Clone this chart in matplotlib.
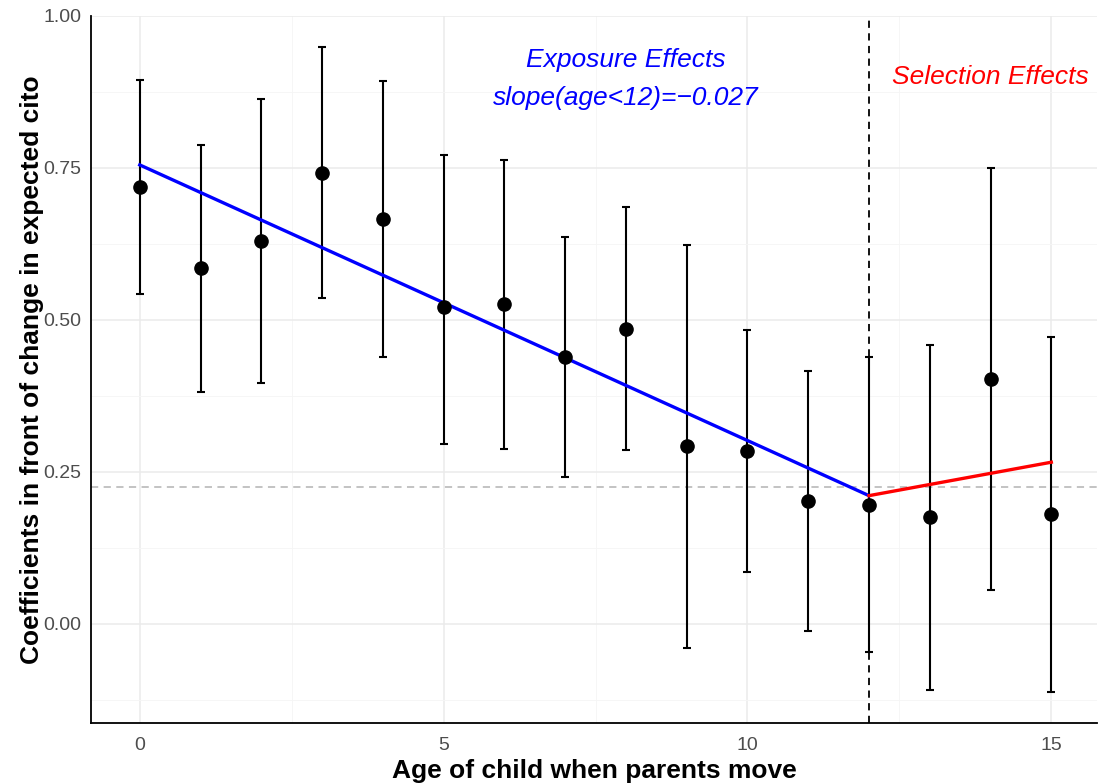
import matplotlib
matplotlib.use("Agg")
import matplotlib.pyplot as plt
from matplotlib.ticker import MultipleLocator

plt.rcParams['font.family'] = ['Liberation Sans', 'DejaVu Sans']

# Coefficients by age at move, with 95% confidence bounds
ages = list(range(16))
coefs = [0.719, 0.586, 0.630, 0.742, 0.666, 0.521, 0.526, 0.439,
         0.485, 0.293, 0.285, 0.202, 0.196, 0.176, 0.403, 0.181]
ci_low = [0.543, 0.382, 0.396, 0.536, 0.439, 0.296, 0.288, 0.242,
          0.286, -0.039, 0.086, -0.012, -0.046, -0.109, 0.056, -0.112]
ci_high = [0.895, 0.788, 0.863, 0.949, 0.893, 0.771, 0.763, 0.637,
           0.686, 0.623, 0.484, 0.416, 0.439, 0.459, 0.750, 0.472]

# Fitted segments: exposure (age < 12) and selection (age >= 12)
exposure_x = [0, 12]
exposure_y = [0.755, 0.211]
selection_x = [12, 15]
selection_y = [0.211, 0.266]

break_age = 12
mean_level = 0.225

x_ticks = [0, 5, 10, 15]
y_ticks = [0.00, 0.25, 0.50, 0.75, 1.00]

fig = plt.figure(figsize=(10.98, 7.83), dpi=100)
ax = fig.add_axes([0.083, 0.0766, 0.916, 0.903])

# ggplot-style grid
ax.set_axisbelow(True)
ax.xaxis.set_minor_locator(MultipleLocator(2.5))
ax.yaxis.set_minor_locator(MultipleLocator(0.125))
ax.grid(which='major', color='#ebebeb', linewidth=1.1)
ax.grid(which='minor', color='#f5f5f5', linewidth=0.6)
ax.tick_params(which='both', length=0)
ax.tick_params(axis='both', labelsize=14, labelcolor='#4d4d4d')
ax.tick_params(axis='y', pad=7)
ax.tick_params(axis='x', pad=10)

for side in ['top', 'right']:
    ax.spines[side].set_visible(False)
for side in ['left', 'bottom']:
    ax.spines[side].set_color('black')
    ax.spines[side].set_linewidth(1.3)

ax.axhline(mean_level, color='#bebebe', linestyle=(0, (4, 3)), linewidth=1.3, zorder=1)
ax.axvline(break_age, color='black', linestyle=(0, (4, 3)), linewidth=1.3, zorder=2)

yerr = [[c - lo for c, lo in zip(coefs, ci_low)],
        [hi - c for c, hi in zip(coefs, ci_high)]]
ax.errorbar(ages, coefs, yerr=yerr, fmt='none', ecolor='black',
            elinewidth=1.5, capsize=2.6, capthick=1.5, zorder=3)
ax.plot(exposure_x, exposure_y, color='blue', linewidth=2.4, zorder=4)
ax.plot(selection_x, selection_y, color='red', linewidth=2.4, zorder=4)
ax.plot(ages, coefs, 'o', color='black', markersize=9.5, zorder=5)

ax.text(8, 0.896, 'Exposure Effects\nslope(age<12)=\u22120.027', color='blue',
        style='italic', fontsize=19, ha='center', va='center', linespacing=1.75)
ax.text(14, 0.90, 'Selection Effects', color='red', style='italic',
        fontsize=19, ha='center', va='center')

ax.set_xlim(-0.8, 15.75)
ax.set_ylim(-0.163, 1.0)
ax.set_xticks(x_ticks)
ax.set_yticks(y_ticks)
ax.set_yticklabels([f'{v:.2f}' for v in y_ticks])

ax.set_xlabel('Age of child when parents move', fontsize=19, fontweight='bold', labelpad=4)
ax.set_ylabel('Coefficients in front of change in expected cito', fontsize=19,
              fontweight='bold', labelpad=-0.5)

fig.savefig('out.png', dpi=100)
